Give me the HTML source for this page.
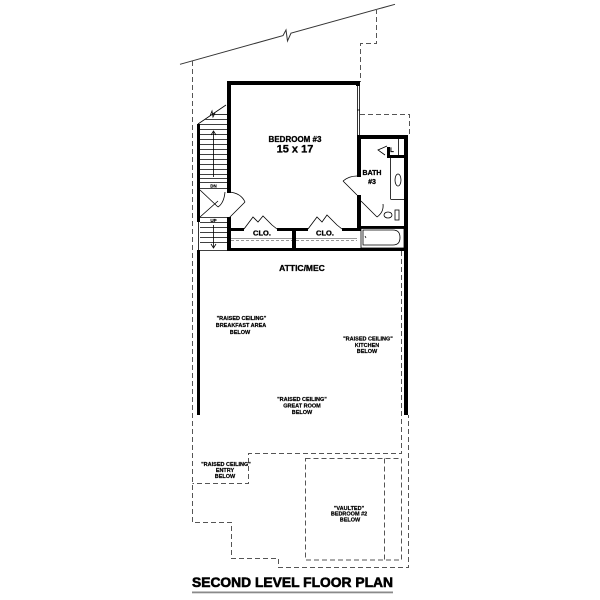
<!DOCTYPE html>
<html><head><meta charset="utf-8"><style>
html,body{margin:0;padding:0;background:#fff;width:600px;height:600px;overflow:hidden}
svg{display:block}
text{font-family:"Liberation Sans",Arial,sans-serif;font-weight:bold;fill:#000}
</style></head><body>
<svg width="600" height="600" viewBox="0 0 600 600" xmlns="http://www.w3.org/2000/svg">
<rect width="600" height="600" fill="#fff"/>

<!-- sloped top line with break -->
<polyline points="180,64.3 283,35.6 286,30 287.5,41 291,33.2 395,4.3" fill="none" stroke="#333" stroke-width="1"/>

<!-- dashed outlines -->
<g fill="none" stroke="#555" stroke-width="1" stroke-dasharray="5,3">
 <polyline points="192.5,61 192.5,522.5 231.5,522.5 231.5,558.5 278.5,558.5 278.5,567.5 408.5,567.5 408.5,415"/>
 <polyline points="376.5,9 376.5,43.5 360.5,43.5 360.5,82"/>
 <polyline points="360,114.5 409.5,114.5 409.5,135"/>
 <polyline points="401.5,251 401.5,453.5 248.5,453.5 248.5,483.5 192.5,483.5"/>
 <rect x="305.5" y="458.5" width="96" height="101.5"/>
 <line x1="384.5" y1="458.5" x2="384.5" y2="560"/>
</g>

<!-- thick walls -->
<g fill="#000">
 <rect x="227" y="81" width="133" height="4"/>
 <rect x="227" y="81" width="4" height="112"/>
 <rect x="227" y="217" width="4" height="34"/>
 <rect x="356" y="81" width="4" height="5"/>
 <rect x="357" y="135" width="51" height="4"/>
 <rect x="404" y="135" width="4" height="280"/>
 <rect x="357" y="135" width="4" height="42"/>
 <rect x="357" y="195" width="4" height="33"/>
 <rect x="387" y="147" width="3" height="11"/>
 <rect x="387" y="155" width="17" height="3"/>
 <rect x="357" y="226" width="47" height="2.5"/>
 <rect x="227" y="248" width="181" height="3"/>
 <rect x="231" y="228" width="13" height="3"/>
 <rect x="277" y="228" width="31" height="3"/>
 <rect x="342" y="228" width="19" height="3"/>
 <rect x="292" y="228" width="4" height="22"/>
 <rect x="197" y="124" width="3" height="98"/>
 <rect x="197" y="250" width="3" height="165"/>
</g>

<!-- thin lines -->
<g fill="none" stroke="#000" stroke-width="0.8">
 <line x1="357.5" y1="85" x2="357.5" y2="135"/>
 <line x1="359.5" y1="85" x2="359.5" y2="135"/>
 <line x1="357" y1="110" x2="360" y2="110"/>
 <line x1="357" y1="195" x2="343" y2="181"/>
 <path d="M343,181 Q349,176 357,176"/>
 <line x1="398.5" y1="139" x2="398.5" y2="155"/>
 <polyline points="387,146 378,150 385,155"/>
 <line x1="390.5" y1="158" x2="390.5" y2="199"/>
 <line x1="390.5" y1="199.5" x2="404" y2="199.5"/>
 <ellipse cx="398" cy="180" rx="3" ry="6"/>
 <line x1="361" y1="201" x2="377" y2="217"/>
 <path d="M377,217 Q384,212 383,204"/>
 <ellipse cx="388" cy="215" rx="4" ry="3"/>
 <rect x="395" y="210" width="4" height="10"/>
 <rect x="361" y="228.5" width="43" height="19.5"/>
 <path d="M363,230 H393 Q400,230 400,237.5 Q400,245 393,245 H363 Z"/>
 <line x1="365" y1="236" x2="366" y2="238"/>
 <polyline points="244,229 253,217 258,222 263,216 272,225 277,229"/>
 <polyline points="308,229 317,217 322,222 327,215 337,225 342,229"/>
 <line x1="231" y1="238.5" x2="292" y2="238.5" stroke="#777"/>
 <line x1="296" y1="238.5" x2="357" y2="238.5" stroke="#777"/>
 <line x1="231" y1="240.5" x2="292" y2="240.5" stroke="#777" stroke-dasharray="3,2"/>
 <line x1="296" y1="240.5" x2="357" y2="240.5" stroke="#777" stroke-dasharray="3,2"/>
 <line x1="198" y1="124" x2="226" y2="105"/>
 <polyline points="210,116 212,111 213,117 215,113"/>
 <line x1="212.7" y1="114.5" x2="227" y2="114.5"/>
 <line x1="205.4" y1="119.5" x2="227" y2="119.5"/>
 <line x1="200" y1="124.5" x2="227" y2="124.5"/>
 <line x1="200" y1="129.5" x2="227" y2="129.5"/>
 <line x1="200" y1="134.5" x2="227" y2="134.5"/>
 <line x1="200" y1="139.5" x2="227" y2="139.5"/>
 <line x1="200" y1="144.5" x2="227" y2="144.5"/>
 <line x1="200" y1="149.5" x2="227" y2="149.5"/>
 <line x1="200" y1="154.5" x2="227" y2="154.5"/>
 <line x1="200" y1="159.5" x2="227" y2="159.5"/>
 <line x1="200" y1="164.5" x2="227" y2="164.5"/>
 <line x1="200" y1="169.5" x2="227" y2="169.5"/>
 <line x1="200" y1="174.5" x2="227" y2="174.5"/>
 <line x1="200" y1="178.5" x2="227" y2="178.5"/>
 <line x1="200" y1="182.5" x2="227" y2="182.5"/>
 <line x1="200" y1="188.5" x2="227" y2="188.5"/>
 <line x1="213.5" y1="132" x2="213.5" y2="177"/>
 <polyline points="211,135 213.5,131 216,135"/>
 <line x1="200" y1="190" x2="218" y2="207"/>
 <line x1="200" y1="217" x2="218" y2="201"/>
 <path d="M225,192 Q224,203 218,207"/>
 <line x1="229" y1="218" x2="245" y2="202"/>
 <path d="M229,192 Q241,193 245,202"/>
 <line x1="200" y1="217.5" x2="227" y2="217.5"/>
 <line x1="200" y1="222.5" x2="227" y2="222.5"/>
 <line x1="200" y1="227.5" x2="227" y2="227.5"/>
 <line x1="200" y1="232.5" x2="227" y2="232.5"/>
 <line x1="200" y1="237.5" x2="227" y2="237.5"/>
 <line x1="200" y1="242.5" x2="227" y2="242.5"/>
 <line x1="198" y1="250.5" x2="227" y2="250.5"/>
 <line x1="198.5" y1="222" x2="198.5" y2="250"/>
 <line x1="213.5" y1="225" x2="213.5" y2="247"/>
 <polyline points="211,244 213.5,248 216,244"/>
</g>

<!-- labels -->
<g stroke="#000" stroke-width="0.3">
<text x="295" y="142" font-size="8" text-anchor="middle">BEDROOM #3</text>
<text x="295" y="152.5" font-size="11" text-anchor="middle">15 x 17</text>
<text x="372" y="175" font-size="7" text-anchor="middle">BATH</text>
<text x="372" y="184" font-size="7" text-anchor="middle">#3</text>
<text x="392" y="152" font-size="6" text-anchor="middle" stroke-width="0.2">L</text>
<text x="262" y="235.7" font-size="7.5" text-anchor="middle">CLO.</text>
<text x="325" y="235.7" font-size="7.5" text-anchor="middle">CLO.</text>
<text x="213.5" y="187.3" font-size="4.5" text-anchor="middle" stroke-width="0.15">DN</text>
<text x="213.5" y="221.8" font-size="4.5" text-anchor="middle" stroke-width="0.15">UP</text>
<text x="302" y="271" font-size="8.5" text-anchor="middle">ATTIC/MEC</text>
</g>

<g font-size="5.5" text-anchor="middle" stroke="#000" stroke-width="0.2">
 <text x="241.5" y="320">"RAISED CEILING"</text>
 <text x="241" y="327">BREAKFAST AREA</text>
 <text x="240" y="334">BELOW</text>

 <text x="368" y="340.5">"RAISED CEILING"</text>
 <text x="367" y="347">KITCHEN</text>
 <text x="367" y="353">BELOW</text>

 <text x="302" y="401">"RAISED CEILING"</text>
 <text x="302" y="407.5">GREAT ROOM</text>
 <text x="302" y="414">BELOW</text>

 <text x="226" y="466">"RAISED CEILING"</text>
 <text x="225" y="472">ENTRY</text>
 <text x="225" y="478">BELOW</text>

 <text x="349" y="510">"VAULTED"</text>
 <text x="349" y="515.5">BEDROOM #2</text>
 <text x="350" y="521.7">BELOW</text>
</g>

<!-- title -->
<text x="192" y="587" font-size="14" textLength="201" lengthAdjust="spacingAndGlyphs" stroke="#000" stroke-width="0.6">SECOND LEVEL FLOOR PLAN</text>
<rect x="192" y="591.5" width="201" height="1.8" fill="#8a8a8a"/>
</svg>
</body></html>
